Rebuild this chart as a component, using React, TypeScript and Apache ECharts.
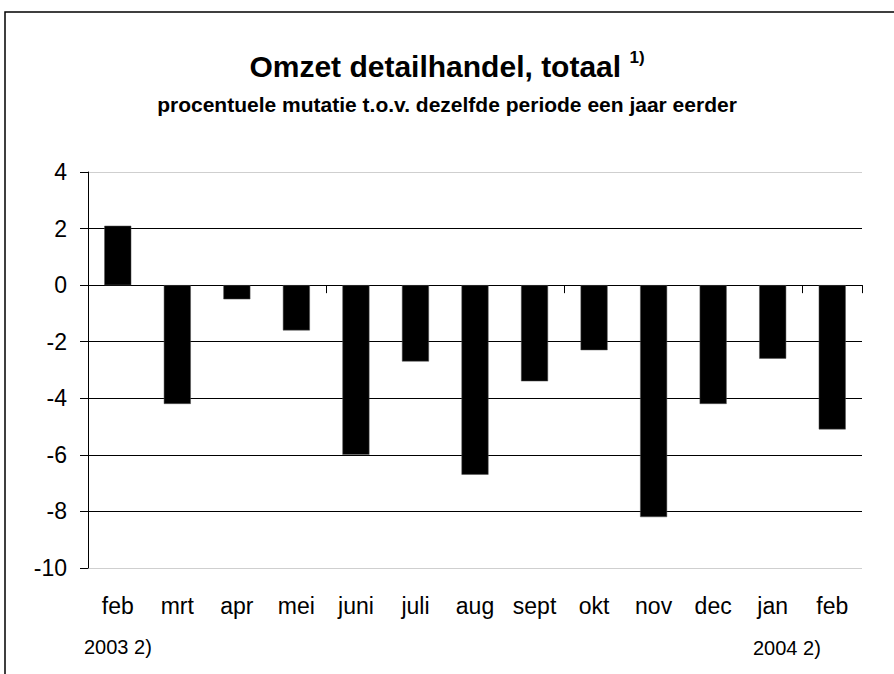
import React, { useEffect, useRef } from "react";
import * as echarts from "echarts";

const categories = ["feb", "mrt", "apr", "mei", "juni", "juli", "aug", "sept", "okt", "nov", "dec", "jan", "feb"];
const values = [2.1, -4.2, -0.5, -1.6, -6.0, -2.7, -6.7, -3.4, -2.3, -8.2, -4.2, -2.6, -5.1];
const yearLabels = ["2003 2)", "2004 2)"];
const titleText = "Omzet detailhandel, totaal";
const titleNote = "1)";
const subtitleText = "procentuele mutatie t.o.v. dezelfde periode een jaar eerder";

const FONT = "'Liberation Sans', Arial, sans-serif";

export default function App() {
  const ref = useRef<HTMLDivElement>(null);
  useEffect(() => {
    if (!ref.current) return;
    const chart = echarts.init(ref.current, null, { renderer: "svg" });
    chart.setOption({
      animation: false,
      backgroundColor: "#fff",
      textStyle: { fontFamily: FONT, color: "#000" },
      title: [
        {
          text: titleText + " {sup|" + titleNote + "}",
          left: "center",
          top: 44,
          textStyle: {
            fontFamily: FONT,
            fontSize: 30,
            fontWeight: "bold",
            color: "#000",
            rich: {
              sup: { fontFamily: FONT, fontSize: 17, fontWeight: "bold", color: "#000", verticalAlign: "top", padding: [0, 0, 18, 0] },
            },
          },
        },
        {
          text: subtitleText,
          left: "center",
          top: 89,
          textStyle: { fontFamily: FONT, fontSize: 21, fontWeight: "bold", color: "#000" },
        },
      ],
      grid: { left: 88, right: 32, top: 172, bottom: 106, containLabel: false, outerBoundsMode: "none" },
      xAxis: [
        {
          type: "category",
          data: categories,
          boundaryGap: true,
          position: "bottom",
          axisLine: { show: false, onZero: false },
          axisTick: { show: false },
          axisLabel: { interval: 0, margin: 26, fontSize: 23, color: "#000", fontFamily: FONT },
          splitLine: { show: false },
        },
        {
          type: "category",
          data: categories,
          boundaryGap: true,
          position: "bottom",
          axisLine: { show: true, onZero: true, onZeroAxisIndex: 0, lineStyle: { color: "#000", width: 1 } },
          axisTick: { show: true, interval: 3, length: 8, lineStyle: { color: "#000" } },
          axisLabel: { show: false },
          splitLine: { show: false },
        },
      ],
      yAxis: {
        type: "value",
        min: -10,
        max: 4,
        interval: 2,
        axisLine: { show: true, lineStyle: { color: "#000", width: 1 } },
        axisTick: { show: true, length: 8, lineStyle: { color: "#000" } },
        axisLabel: { fontSize: 23, color: "#000", margin: 21, fontFamily: FONT },
        splitLine: {
          show: true,
          lineStyle: { color: ["#cfcfcf", "#000", "#000", "#000", "#000", "#000", "#000", "#cfcfcf"], width: 1 },
        },
      },
      series: [
        {
          type: "bar",
          xAxisIndex: 0,
          data: values,
          barWidth: 27,
          itemStyle: { color: "#000", borderColor: "#555", borderWidth: 0.5 },
        },
      ],
      graphic: [
        {
          type: "rect",
          shape: { x: 5, y: 12, width: 1000, height: 1000 },
          style: { fill: "none", stroke: "#000", lineWidth: 1.5 },
          silent: true,
        },
        {
          type: "text",
          x: 84,
          y: 647,
          style: { text: yearLabels[0], font: "20px " + FONT, fill: "#000", textVerticalAlign: "middle" },
        },
        {
          type: "text",
          x: 753,
          y: 648,
          style: { text: yearLabels[1], font: "20px " + FONT, fill: "#000", textVerticalAlign: "middle" },
        },
      ],
    });
    return () => chart.dispose();
  }, []);
  return <div ref={ref} style={{ position: "absolute", left: 0, top: 0, width: 894, height: 674 }} />;
}
